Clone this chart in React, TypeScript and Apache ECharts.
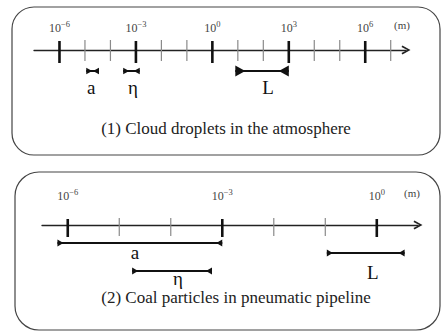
import React, { useEffect, useRef } from 'react';
import * as echarts from 'echarts';

// ---- Panel 1: Cloud droplets in the atmosphere ----
const ticks1 = [-6, -5, -4, -3, -2, -1, 0, 1, 2, 3, 4, 5, 6, 7];
const labels1 = [-6, -3, 0, 3, 6];
const names1 = ['a', 'η', 'L'];
const from1 = [-4.95, -3.5, 0.9];
const to1 = [-4.45, -2.85, 3.0];
const row1 = [-2.1, -2.1, -2.1];
const title1 = '(1) Cloud droplets in the atmosphere';

// ---- Panel 2: Coal particles in pneumatic pipeline ----
const ticks2 = [-6, -5, -4, -3, -2, -1, 0];
const labels2 = [-6, -3, 0];
const names2 = ['a', 'η', 'L'];
const from2 = [-6.2, -4.75, -0.97];
const to2 = [-3.0, -3.2, 0.54];
const row2 = [-1.8, -4.6, -2.8];
const title2 = '(2) Coal particles in pneumatic pipeline';

const unit = '(m)';

const SERIF = 'Liberation Serif';

// layout / style (not data)
const panelStyle = [
  {
    tickUp: 9, tickDown: 13, minorUp: 10, minorDown: 11, labelUp: 22,
    markers: [
      { h: 3.2, len: 6, dx: -1.5, dy: 16 },
      { h: 3.2, len: 6, dx: 1.5, dy: 16 },
      { h: 5.5, len: 10, dx: 6, dy: 16 },
    ],
  },
  {
    tickUp: 6, tickDown: 12, minorUp: 7, minorDown: 11, labelUp: 29,
    markers: [
      { h: 3.6, len: 6, dx: -5, dy: 9 },
      { h: 3.6, len: 6, dx: 6, dy: 7 },
      { h: 3.6, len: 6, dx: 7, dy: 19 },
    ],
  },
];

function tickSeries(gridIdx: number, ticks: number[]) {
  const st = panelStyle[gridIdx];
  return {
    type: 'custom',
    xAxisIndex: gridIdx,
    yAxisIndex: gridIdx,
    data: ticks.map((t) => [t]),
    encode: { x: 0 },
    silent: true,
    renderItem: (params: any, api: any) => {
      const v = api.value(0);
      const p = api.coord([v, 0]);
      const major = v % 3 === 0;
      return {
        type: 'line',
        shape: {
          x1: p[0], y1: p[1] - (major ? st.tickUp : st.minorUp),
          x2: p[0], y2: p[1] + (major ? st.tickDown : st.minorDown),
        },
        style: { stroke: major ? '#111' : '#8a8a8a', lineWidth: major ? 2.6 : 1.2 },
      };
    },
  };
}

function labelSeries(gridIdx: number, labels: number[]) {
  const st = panelStyle[gridIdx];
  return {
    type: 'custom',
    xAxisIndex: gridIdx,
    yAxisIndex: gridIdx,
    data: labels.map((t) => [t]),
    encode: { x: 0 },
    silent: true,
    renderItem: (params: any, api: any) => {
      const v = api.value(0);
      const p = api.coord([v, 0]);
      const exp = v < 0 ? '\u2212' + Math.abs(v) : String(v);
      return {
        type: 'text',
        x: p[0],
        y: p[1] - st.labelUp,
        style: {
          text: '{b|10}{s|' + exp + '}',
          align: 'center',
          verticalAlign: 'middle',
          rich: {
            b: { fontFamily: SERIF, fontSize: 12, fill: '#444', color: '#444' },
            s: { fontFamily: SERIF, fontSize: 8.5, fill: '#444', color: '#444', padding: [0, 0, 8, 0] },
          },
        },
      };
    },
  };
}

function rangeSeries(gridIdx: number, names: string[], from: number[], to: number[], rows: number[]) {
  const st = panelStyle[gridIdx];
  return {
    type: 'custom',
    xAxisIndex: gridIdx,
    yAxisIndex: gridIdx,
    data: names.map((n, i) => [from[i], to[i], rows[i], i]),
    encode: { x: [0, 1], y: 2 },
    silent: true,
    renderItem: (params: any, api: any) => {
      const i = api.value(3);
      const m = st.markers[i];
      const a = api.coord([api.value(0), api.value(2)]);
      const b = api.coord([api.value(1), api.value(2)]);
      const y = a[1];
      return {
        type: 'group',
        children: [
          {
            type: 'line',
            shape: { x1: a[0], y1: y, x2: b[0], y2: y },
            style: { stroke: '#111', lineWidth: 2 },
          },
          {
            type: 'polygon',
            shape: { points: [[a[0], y - m.h], [a[0], y + m.h], [a[0] + m.len, y]] },
            style: { fill: '#111' },
          },
          {
            type: 'polygon',
            shape: { points: [[b[0], y - m.h], [b[0], y + m.h], [b[0] - m.len, y]] },
            style: { fill: '#111' },
          },
          {
            type: 'text',
            x: (a[0] + b[0]) / 2 + m.dx,
            y: y + m.dy,
            style: {
              text: names[i],
              align: 'center',
              verticalAlign: 'middle',
              fontFamily: SERIF,
              fontSize: 19,
              fill: '#111',
            },
          },
        ],
      };
    },
  };
}

const arrowPath = 'path://M5,0 L10,9 L8.4,10 L5,3.6 L1.6,10 L0,9 Z';

function xAxisFor(gridIdx: number, min: number, max: number) {
  return {
    type: 'value',
    gridIndex: gridIdx,
    min,
    max,
    axisLine: {
      show: true,
      onZero: true,
      symbol: ['none', arrowPath],
      symbolSize: [9, 10],
      lineStyle: { color: '#222', width: 1.3 },
    },
    axisTick: { show: false },
    axisLabel: { show: false },
    splitLine: { show: false },
  };
}

function yAxisFor(gridIdx: number) {
  return {
    type: 'value',
    gridIndex: gridIdx,
    min: -6,
    max: 2,
    show: false,
    axisLine: { show: false },
    splitLine: { show: false },
  };
}

const textEl = (text: string, x: number, y: number, size: number, color: string) => ({
  type: 'text',
  x,
  y,
  silent: true,
  style: {
    text,
    align: 'center',
    verticalAlign: 'middle',
    fontFamily: SERIF,
    fontSize: size,
    fill: color,
  },
});

export default function App() {
  const ref = useRef<HTMLDivElement>(null);
  useEffect(() => {
    if (!ref.current) return;
    const chart = echarts.init(ref.current, undefined, { renderer: 'svg' });
    const option: any = {
      animation: false,
      backgroundColor: '#fff',
      grid: [
        { left: 34, right: 36, top: 30, height: 80 },
        { left: 42, right: 24, top: 205, height: 80 },
      ],
      xAxis: [xAxisFor(0, -7, 7.6), xAxisFor(1, -6.5, 0.8)],
      yAxis: [yAxisFor(0), yAxisFor(1)],
      graphic: [
        {
          type: 'rect',
          shape: { x: 12, y: 7, width: 428, height: 148, r: 22 },
          style: { fill: 'none', stroke: '#444', lineWidth: 1.2 },
          silent: true,
        },
        {
          type: 'rect',
          shape: { x: 15, y: 172, width: 425, height: 158, r: 24 },
          style: { fill: 'none', stroke: '#444', lineWidth: 1.2 },
          silent: true,
        },
        textEl(title1, 226, 128, 17, '#222'),
        textEl(title2, 236, 297, 17, '#222'),
        textEl(unit, 402, 25, 11, '#444'),
        textEl(unit, 412, 193, 11, '#444'),
      ],
      series: [
        tickSeries(0, ticks1),
        labelSeries(0, labels1),
        rangeSeries(0, names1, from1, to1, row1),
        tickSeries(1, ticks2),
        labelSeries(1, labels2),
        rangeSeries(1, names2, from2, to2, row2),
      ],
    };
    chart.setOption(option);
    return () => chart.dispose();
  }, []);
  return <div ref={ref} style={{ width: 442, height: 333, position: 'absolute', left: 0, top: 0 }} />;
}
